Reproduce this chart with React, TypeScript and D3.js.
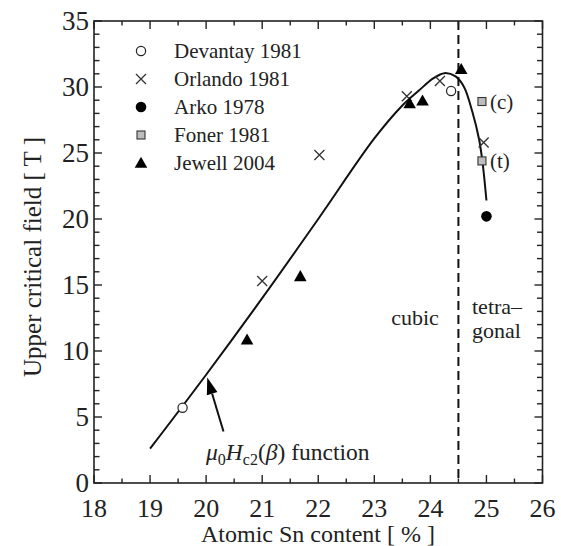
import React from "react";
import * as d3 from "d3";

// Measured points for each reference, [Sn content %, upper critical field T]
const devantay1981: [number, number][] = [
  [19.58, 5.7],
  [24.37, 29.7],
];
const orlando1981: [number, number][] = [
  [21.0, 15.3],
  [22.02, 24.85],
  [23.58, 29.3],
  [24.17, 30.45],
  [24.95, 25.8],
];
const arko1978: [number, number][] = [[25.0, 20.2]];
const foner1981: [number, number][] = [
  [24.92, 28.9],
  [24.92, 24.4],
];
const fonerTags = ["(c)", "(t)"];
const jewell2004: [number, number][] = [
  [20.73, 10.85],
  [21.68, 15.65],
  [23.63, 28.75],
  [23.86, 28.95],
  [24.55, 31.35],
];

// Hc2(beta) function, sampled along its course
const hc2Curve: [number, number][] = [
  [19.0, 2.6],
  [20.0, 8.2],
  [21.0, 14.0],
  [22.0, 20.0],
  [23.0, 26.1],
  [23.5, 28.6],
  [23.8, 29.75],
  [24.05, 30.65],
  [24.25, 31.05],
  [24.45, 30.8],
  [24.6, 30.0],
  [24.75, 28.1],
  [24.87, 26.0],
  [24.93, 24.3],
  [25.0, 21.4],
];

const phaseBoundary = 24.5;
const xTicks = [18, 19, 20, 21, 22, 23, 24, 25, 26];
const yTicks = [0, 5, 10, 15, 20, 25, 30, 35];
const legendLabels = [
  "Devantay 1981",
  "Orlando 1981",
  "Arko 1978",
  "Foner 1981",
  "Jewell 2004",
];
// arrow from the label towards the curve: [tail, tip]
const arrowPts: [number, number][] = [
  [20.31, 3.9],
  [20.02, 8.0],
];

const W = 561;
const H = 546;
const left = 94;
const right = 542.5;
const top = 21;
const bottom = 483;
const FONT = "Liberation Serif, Times New Roman, DejaVu Serif, serif";

type Kind = "open" | "cross" | "filled" | "square" | "tri";

function Marker({ kind, cx, cy }: { kind: Kind; cx: number; cy: number }) {
  if (kind === "open")
    return <circle cx={cx} cy={cy} r={4.6} fill="#fff" stroke="#222" strokeWidth={1.2} />;
  if (kind === "filled") return <circle cx={cx} cy={cy} r={5.3} fill="#000" />;
  if (kind === "square")
    return (
      <rect x={cx - 4} y={cy - 4} width={8} height={8} fill="#bdbdbd" stroke="#333" strokeWidth={1.1} />
    );
  if (kind === "tri") {
    const s = 6.3;
    return (
      <path
        d={`M${cx},${cy - s} L${cx + s},${cy + s * 0.75} L${cx - s},${cy + s * 0.75} Z`}
        fill="#000"
      />
    );
  }
  const h = 5;
  return (
    <path
      d={`M${cx - h},${cy - h} L${cx + h},${cy + h} M${cx - h},${cy + h} L${cx + h},${cy - h}`}
      stroke="#333"
      strokeWidth={1.3}
      fill="none"
    />
  );
}

export default function App() {
  const x = d3.scaleLinear().domain([18, 26]).range([left, right]);
  const y = d3.scaleLinear().domain([0, 35]).range([bottom, top]);

  const line = d3
    .line<[number, number]>()
    .x((d) => x(d[0]))
    .y((d) => y(d[1]))
    .curve(d3.curveCatmullRom.alpha(0.5));

  const xMinor = d3.range(18, 26.01, 0.5).filter((v) => !xTicks.includes(v));
  const yMinor = d3.range(0, 35.01, 1).filter((v) => !yTicks.includes(v));

  const series: { kind: Kind; data: [number, number][] }[] = [
    { kind: "open", data: devantay1981 },
    { kind: "cross", data: orlando1981 },
    { kind: "filled", data: arko1978 },
    { kind: "square", data: foner1981 },
    { kind: "tri", data: jewell2004 },
  ];

  const [tail, tip] = arrowPts;
  const tx = x(tail[0]);
  const ty = y(tail[1]);
  const px = x(tip[0]);
  const py = y(tip[1]);
  const ang = Math.atan2(py - ty, px - tx);
  const headLen = 17;
  const headW = 5.5;
  const bx = px - headLen * Math.cos(ang);
  const by = py - headLen * Math.sin(ang);
  const nx = -Math.sin(ang);
  const ny = Math.cos(ang);

  const txt = { fontFamily: FONT, fill: "#222" } as const;

  return (
    <svg
      width={W}
      height={H}
      style={{ position: "absolute", left: 0, top: 0, background: "#fff", fontFamily: FONT }}
    >
      {/* phase boundary */}
      <line
        x1={x(phaseBoundary)}
        x2={x(phaseBoundary)}
        y1={top}
        y2={bottom}
        stroke="#111"
        strokeWidth={2}
        strokeDasharray="9 5"
      />

      {/* Hc2 curve */}
      <path d={line(hc2Curve) ?? ""} fill="none" stroke="#111" strokeWidth={2} />

      {/* arrow */}
      <line x1={tx} y1={ty} x2={bx} y2={by} stroke="#111" strokeWidth={2} />
      <path
        d={`M${px},${py} L${bx + nx * headW},${by + ny * headW} L${bx - nx * headW},${by - ny * headW} Z`}
        fill="#000"
      />

      {/* data markers */}
      {series.map((s) =>
        s.data.map((d, i) => <Marker key={s.kind + i} kind={s.kind} cx={x(d[0])} cy={y(d[1])} />)
      )}
      {foner1981.map((d, i) => (
        <text key={"ft" + i} x={x(d[0]) + 8} y={y(d[1]) + 7} fontSize={21} style={txt}>
          {fonerTags[i]}
        </text>
      ))}

      {/* frame */}
      <rect
        x={left}
        y={top}
        width={right - left}
        height={bottom - top}
        fill="none"
        stroke="#222"
        strokeWidth={1.6}
      />

      {/* ticks on all four sides, pointing inward */}
      {xTicks.map((v) => (
        <g key={"xt" + v}>
          <line x1={x(v)} x2={x(v)} y1={bottom} y2={bottom - 8} stroke="#222" strokeWidth={1.4} />
          <line x1={x(v)} x2={x(v)} y1={top} y2={top + 8} stroke="#222" strokeWidth={1.4} />
          <text x={x(v)} y={517} textAnchor="middle" fontSize={26} style={txt}>
            {v}
          </text>
        </g>
      ))}
      {xMinor.map((v) => (
        <g key={"xm" + v}>
          <line x1={x(v)} x2={x(v)} y1={bottom} y2={bottom - 4.5} stroke="#222" strokeWidth={1.4} />
          <line x1={x(v)} x2={x(v)} y1={top} y2={top + 4.5} stroke="#222" strokeWidth={1.4} />
        </g>
      ))}
      {yTicks.map((v) => (
        <g key={"yt" + v}>
          <line x1={left} x2={left + 8} y1={y(v)} y2={y(v)} stroke="#222" strokeWidth={1.4} />
          <line x1={right} x2={right - 8} y1={y(v)} y2={y(v)} stroke="#222" strokeWidth={1.4} />
          <text x={89} y={y(v) + 9} textAnchor="end" fontSize={27} style={txt}>
            {v}
          </text>
        </g>
      ))}
      {yMinor.map((v) => (
        <g key={"ym" + v}>
          <line x1={left} x2={left + 5.5} y1={y(v)} y2={y(v)} stroke="#222" strokeWidth={1.4} />
          <line x1={right} x2={right - 5.5} y1={y(v)} y2={y(v)} stroke="#222" strokeWidth={1.4} />
        </g>
      ))}

      {/* axis titles */}
      <text x={318} y={542} textAnchor="middle" fontSize={24} style={txt}>
        Atomic Sn content [ % ]
      </text>
      <text
        transform="translate(41,257) rotate(-90)"
        textAnchor="middle"
        fontSize={25}
        style={txt}
      >
        Upper critical field [ T ]
      </text>

      {/* legend */}
      {series.map((s, i) => (
        <g key={"lg" + i}>
          <Marker kind={s.kind} cx={141} cy={51 + i * 28} />
          <text x={174} y={58 + i * 28} fontSize={21} style={txt}>
            {legendLabels[i]}
          </text>
        </g>
      ))}

      {/* region labels */}
      <text x={415} y={325} textAnchor="middle" fontSize={22} style={txt}>
        cubic
      </text>
      <text x={472} y={314} fontSize={22} style={txt}>
        tetra–
      </text>
      <text x={472} y={338} fontSize={22} style={txt}>
        gonal
      </text>

      {/* curve label */}
      <text x={206} y={460} fontSize={23.5} style={txt}>
        <tspan fontStyle="italic">μ</tspan>
        <tspan fontSize={16} dy={5}>0</tspan>
        <tspan fontStyle="italic" dy={-5}>H</tspan>
        <tspan fontSize={16} dy={5}>c2</tspan>
        <tspan dy={-5}>(</tspan>
        <tspan fontStyle="italic">β</tspan>
        <tspan>) function</tspan>
      </text>
    </svg>
  );
}
